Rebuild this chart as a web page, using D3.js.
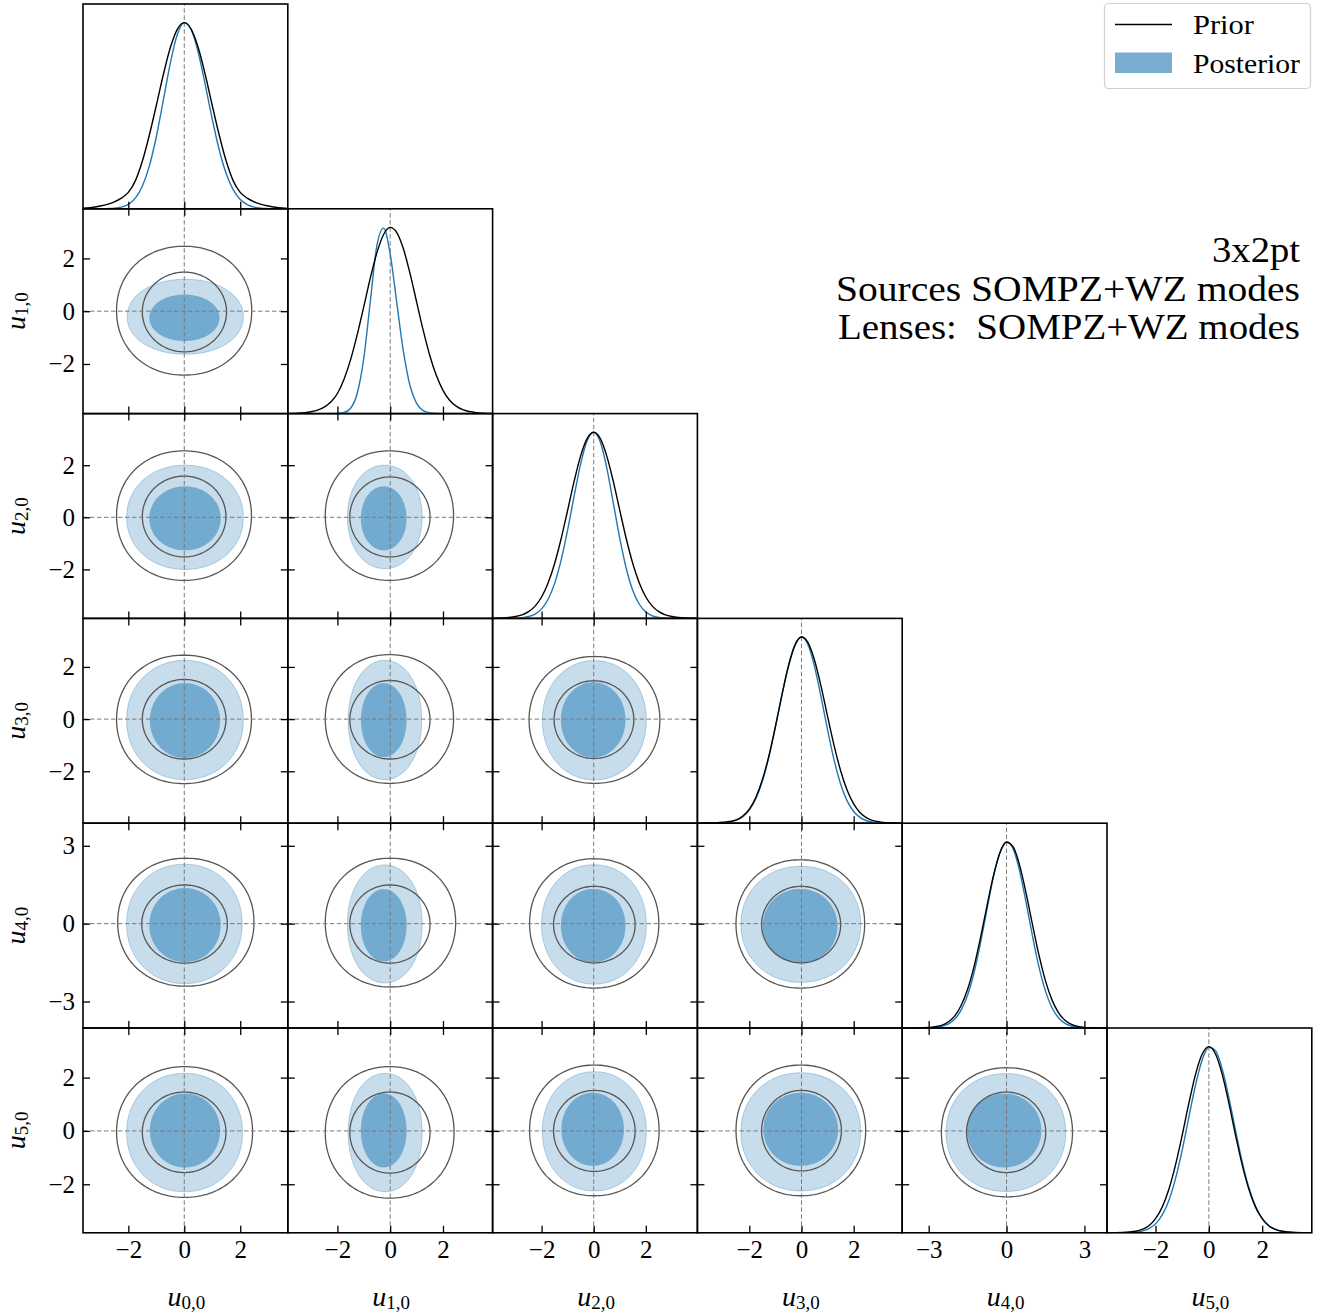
<!DOCTYPE html>
<html>
<head>
<meta charset="utf-8">
<script src="https://cdn.jsdelivr.net/npm/d3@7"></script>
<style>
  body { margin: 0; background: #fff; }
  svg text { font-family: "Liberation Serif", "DejaVu Serif", serif; fill: #000; }
</style>
</head>
<body>
<svg id="chart" width="1325" height="1315"></svg>
<script>
// ---------------- data ----------------
const paramSubs = ["0,0", "1,0", "2,0", "3,0", "4,0", "5,0"];
const axisRanges = [[-3.62, 3.70], [-3.88, 3.88], [-3.88, 3.98], [-3.99, 3.86], [-4.02, 3.87], [-3.82, 3.86]];
const tickValues = [[-2, 0, 2], [-2, 0, 2], [-2, 0, 2], [-2, 0, 2], [-3, 0, 3], [-2, 0, 2]];

// 1D marginals, normalised to peak 1, sampled on densityGrid
const densityGrid = [-4, -3.75, -3.5, -3.25, -3, -2.75, -2.5, -2.25, -2, -1.75, -1.5, -1.25, -1, -0.75, -0.5, -0.25,
  0, 0.25, 0.5, 0.75, 1, 1.25, 1.5, 1.75, 2, 2.25, 2.5, 2.75, 3, 3.25, 3.5, 3.75, 4];
const priorDensity = [
  [0.001,0.002,0.004,0.008,0.015,0.024,0.037,0.057,0.088,0.150,0.255,0.395,0.555,0.720,0.865,0.964,1.000,0.964,0.865,0.720,0.555,0.395,0.255,0.150,0.088,0.057,0.037,0.024,0.015,0.008,0.004,0.002,0.001],
  [0.000,0.001,0.002,0.005,0.010,0.019,0.035,0.062,0.108,0.185,0.290,0.424,0.575,0.730,0.866,0.962,1.000,0.972,0.885,0.753,0.600,0.448,0.312,0.204,0.125,0.072,0.040,0.021,0.011,0.005,0.002,0.001,0.000],
  [0.000,0.001,0.002,0.005,0.010,0.019,0.036,0.066,0.115,0.190,0.295,0.428,0.581,0.737,0.873,0.967,1.000,0.967,0.873,0.737,0.581,0.428,0.295,0.190,0.115,0.066,0.036,0.019,0.010,0.005,0.002,0.001,0.000],
  [0.000,0.0005,0.001,0.002,0.005,0.009,0.018,0.039,0.076,0.138,0.233,0.361,0.519,0.688,0.843,0.955,1.000,0.970,0.875,0.735,0.574,0.417,0.282,0.177,0.104,0.056,0.029,0.014,0.007,0.003,0.001,0.0005,0.000],
  [0.000,0.0003,0.0005,0.0015,0.003,0.007,0.014,0.032,0.064,0.121,0.208,0.331,0.487,0.659,0.821,0.943,0.998,0.974,0.876,0.726,0.555,0.391,0.253,0.151,0.083,0.042,0.020,0.009,0.0034,0.0015,0.0005,0.000,0.000],
  [0.000,0.0005,0.001,0.002,0.004,0.008,0.018,0.038,0.076,0.138,0.234,0.365,0.524,0.696,0.851,0.960,1.000,0.960,0.851,0.696,0.524,0.365,0.234,0.138,0.076,0.038,0.018,0.008,0.004,0.002,0.001,0.0005,0.000]
];
const posteriorDensity = [
  [0,0,0,0,0.0003,0.001,0.003,0.009,0.024,0.057,0.121,0.229,0.387,0.582,0.781,0.936,1.000,0.960,0.839,0.666,0.481,0.316,0.188,0.102,0.050,0.023,0.009,0.003,0.001,0,0,0,0],
  [0,0,0,0,0,0,0,0,0.001,0.006,0.029,0.108,0.298,0.607,0.906,0.996,0.857,0.595,0.334,0.151,0.055,0.016,0.004,0.001,0,0,0,0,0,0,0,0,0],
  [0,0,0,0,0.001,0.004,0.010,0.023,0.051,0.103,0.188,0.313,0.475,0.658,0.830,0.954,1.000,0.949,0.810,0.622,0.431,0.268,0.150,0.076,0.034,0.014,0.005,0.002,0.0005,0,0,0,0],
  [0,0,0,0.001,0.003,0.007,0.016,0.035,0.071,0.132,0.226,0.356,0.517,0.690,0.848,0.960,1.000,0.958,0.841,0.678,0.501,0.339,0.211,0.120,0.063,0.030,0.013,0.005,0.002,0.001,0,0,0],
  [0,0,0,0,0.001,0.003,0.009,0.021,0.047,0.096,0.177,0.298,0.458,0.640,0.815,0.945,1.000,0.963,0.846,0.676,0.493,0.327,0.198,0.109,0.055,0.025,0.0105,0.004,0.0015,0,0,0,0],
  [0,0,0,0,0.001,0.004,0.009,0.022,0.048,0.096,0.174,0.291,0.444,0.621,0.794,0.930,0.997,0.978,0.880,0.726,0.550,0.381,0.243,0.142,0.076,0.037,0.017,0.007,0.003,0.001,0,0,0]
];

// 2D credible regions, [row, col] pairs; each region given as [xmin, xmax, ymin, ymax]
const panelPairs = [[1,0],[2,0],[2,1],[3,0],[3,1],[3,2],[4,0],[4,1],[4,2],[4,3],[5,0],[5,1],[5,2],[5,3],[5,4]];
const priorOuter = [
  [-2.42,2.41,-2.42,2.46],[-2.42,2.40,-2.42,2.55],[-2.46,2.40,-2.42,2.55],[-2.42,2.40,-2.47,2.45],[-2.46,2.40,-2.46,2.47],
  [-2.48,2.54,-2.46,2.40],[-2.38,2.49,-2.41,2.52],[-2.46,2.48,-2.44,2.52],[-2.46,2.50,-2.48,2.50],[-2.51,2.42,-2.48,2.46],
  [-2.42,2.44,-2.49,2.41],[-2.46,2.42,-2.52,2.41],[-2.46,2.51,-2.43,2.47],[-2.51,2.46,-2.43,2.47],[-2.51,2.54,-2.47,2.37]
];
const priorInner = [
  [-1.50,1.51,-1.54,1.48],[-1.50,1.49,-1.52,1.58],[-1.53,1.51,-1.52,1.55],[-1.50,1.49,-1.53,1.52],[-1.53,1.51,-1.53,1.48],
  [-1.52,1.54,-1.51,1.47],[-1.52,1.54,-1.52,1.49],[-1.53,1.51,-1.52,1.49],[-1.54,1.59,-1.51,1.44],[-1.53,1.50,-1.51,1.44],
  [-1.50,1.49,-1.56,1.46],[-1.53,1.51,-1.58,1.46],[-1.54,1.59,-1.52,1.52],[-1.53,1.53,-1.50,1.52],[-1.54,1.51,-1.56,1.46]
];
const posteriorOuter = [
  [-2.04,2.11,-1.63,1.21],[-2.06,2.11,-2.00,2.00],[-1.62,1.21,-1.97,2.00],[-2.06,2.11,-2.32,2.25],[-1.59,1.19,-2.32,2.25],
  [-1.97,2.02,-2.33,2.24],[-2.06,2.07,-2.31,2.29],[-1.62,1.21,-2.28,2.26],[-2.00,2.02,-2.33,2.27],[-2.32,2.27,-2.26,2.21],
  [-2.06,2.08,-2.28,2.16],[-1.59,1.21,-2.28,2.16],[-1.97,2.02,-2.25,2.22],[-2.32,2.27,-2.25,2.18],[-2.33,2.28,-2.27,2.15]
];
const posteriorInner = [
  [-1.25,1.26,-1.13,0.63],[-1.25,1.30,-1.27,1.19],[-1.11,0.62,-1.27,1.19],[-1.23,1.28,-1.49,1.38],[-1.11,0.62,-1.46,1.38],
  [-1.26,1.22,-1.47,1.41],[-1.25,1.30,-1.48,1.37],[-1.11,0.62,-1.46,1.33],[-1.26,1.22,-1.49,1.34],[-1.49,1.38,-1.52,1.34],
  [-1.23,1.28,-1.37,1.40],[-1.11,0.62,-1.37,1.40],[-1.24,1.16,-1.31,1.43],[-1.46,1.40,-1.31,1.43],[-1.52,1.34,-1.37,1.40]
];

const legendLabels = ["Prior", "Posterior"];
const annotationLines = ["3x2pt", "Sources SOMPZ+WZ modes", "Lenses:\u00a0 SOMPZ+WZ modes"];

// ---------------- layout ----------------
const svg = d3.select("#chart");
const L = 83, T = 4, S = 204.8, TICK = 7;
const BLUE = "#1f77b4";
const n = paramSubs.length;

const xScale = j => d3.scaleLinear().domain(axisRanges[j]).range([L + j * S, L + (j + 1) * S]);
const yScale = i => d3.scaleLinear().domain(axisRanges[i]).range([T + (i + 1) * S, T + i * S]);

const defs = svg.append("defs");
function clipFor(i, j) {
  const id = `clip-${i}-${j}`;
  defs.append("clipPath").attr("id", id)
    .append("rect").attr("x", L + j * S).attr("y", T + i * S).attr("width", S).attr("height", S);
  return `url(#${id})`;
}

// closed rounded outline through the four extents; exponent > 2 squares the shoulders slightly
function regionPoints(ext, expo) {
  const cx = (ext[0] + ext[1]) / 2, cy = (ext[2] + ext[3]) / 2;
  const rx = (ext[1] - ext[0]) / 2, ry = (ext[3] - ext[2]) / 2;
  const p = 2 / expo;
  return d3.range(0, 160).map(k => {
    const t = k / 160 * 2 * Math.PI;
    const c = Math.cos(t), s = Math.sin(t);
    return [cx + rx * Math.sign(c) * Math.pow(Math.abs(c), p), cy + ry * Math.sign(s) * Math.pow(Math.abs(s), p)];
  });
}

function styleAxis(g, size) {
  g.select(".domain").remove();
  g.selectAll(".tick line").attr("stroke", "#000").attr("stroke-width", 1.3);
  g.selectAll("text").attr("font-family", "Liberation Serif, DejaVu Serif, serif")
    .attr("font-size", size).attr("fill", "#000");
}

function drawFrame(i, j) {
  svg.append("rect").attr("x", L + j * S).attr("y", T + i * S).attr("width", S).attr("height", S)
    .attr("fill", "none").attr("stroke", "#000").attr("stroke-width", 1.6);
}

function drawZeroLines(g, xs, ys, twoD) {
  const dash = "4.5,2.5";
  g.append("line").attr("x1", xs(0)).attr("x2", xs(0)).attr("y1", ys.range()[0]).attr("y2", ys.range()[1])
    .attr("stroke", "#7a7a7a").attr("stroke-width", 1).attr("stroke-dasharray", dash);
  if (twoD) {
    g.append("line").attr("x1", xs.range()[0]).attr("x2", xs.range()[1]).attr("y1", ys(0)).attr("y2", ys(0))
      .attr("stroke", "#7a7a7a").attr("stroke-width", 1).attr("stroke-dasharray", dash);
  }
}

const TICK_FONT = 25;

// ---------------- 2D panels ----------------
panelPairs.forEach(([i, j], k) => {
  const xs = xScale(j), ys = yScale(i);
  const g = svg.append("g").attr("clip-path", clipFor(i, j));
  const line = d3.line().x(p => xs(p[0])).y(p => ys(p[1])).curve(d3.curveLinearClosed);

  g.append("path").attr("d", line(regionPoints(posteriorOuter[k], 2.08)))
    .attr("fill", BLUE).attr("fill-opacity", 0.25)
    .attr("stroke", BLUE).attr("stroke-opacity", 0.3).attr("stroke-width", 1);
  g.append("path").attr("d", line(regionPoints(posteriorInner[k], 2.03)))
    .attr("fill", BLUE).attr("fill-opacity", 0.5);
  g.append("path").attr("d", line(regionPoints(priorOuter[k], 2.1)))
    .attr("fill", "none").attr("stroke", "#555").attr("stroke-width", 1.3);
  g.append("path").attr("d", line(regionPoints(priorInner[k], 2.0)))
    .attr("fill", "none").attr("stroke", "#555").attr("stroke-width", 1.3);
  drawZeroLines(g, xs, ys, true);

  const x0 = L + j * S, y0 = T + i * S;
  const bottom = svg.append("g").attr("transform", `translate(0,${y0 + S})`)
    .call(d3.axisBottom(xs).tickValues(tickValues[j]).tickSize(-TICK).tickPadding(7)
      .tickFormat(i === n - 1 ? null : ""));
  styleAxis(bottom, TICK_FONT);
  const top = svg.append("g").attr("transform", `translate(0,${y0})`)
    .call(d3.axisTop(xs).tickValues(tickValues[j]).tickSize(-TICK).tickFormat(""));
  styleAxis(top, TICK_FONT);
  const left = svg.append("g").attr("transform", `translate(${x0},0)`)
    .call(d3.axisLeft(ys).tickValues(tickValues[i]).tickSize(-TICK).tickPadding(8)
      .tickFormat(j === 0 ? null : ""));
  styleAxis(left, TICK_FONT);
  const right = svg.append("g").attr("transform", `translate(${x0 + S},0)`)
    .call(d3.axisRight(ys).tickValues(tickValues[i]).tickSize(-TICK).tickFormat(""));
  styleAxis(right, TICK_FONT);
  drawFrame(i, j);
});

// ---------------- diagonal (1D) panels ----------------
d3.range(n).forEach(i => {
  const xs = xScale(i);
  const ys = d3.scaleLinear().domain([0, 1.1]).range([T + (i + 1) * S, T + i * S]);
  const g = svg.append("g").attr("clip-path", clipFor(i, i));
  const curve = vals => d3.line().x((d, k) => xs(densityGrid[k])).y(d => ys(d)).curve(d3.curveMonotoneX)(vals);
  drawZeroLines(g, xs, ys, false);
  g.append("path").attr("d", curve(posteriorDensity[i]))
    .attr("fill", "none").attr("stroke", BLUE).attr("stroke-width", 1.4);
  g.append("path").attr("d", curve(priorDensity[i]))
    .attr("fill", "none").attr("stroke", "#000").attr("stroke-width", 1.4);

  const bottom = svg.append("g").attr("transform", `translate(0,${T + (i + 1) * S})`)
    .call(d3.axisBottom(xs).tickValues(tickValues[i]).tickSize(-TICK).tickPadding(7)
      .tickFormat(i === n - 1 ? null : ""));
  styleAxis(bottom, TICK_FONT);
  drawFrame(i, i);
});

// ---------------- axis labels ----------------
function mathLabel(sel, sub) {
  sel.append("tspan").attr("font-style", "italic").attr("font-size", 28).text("u");
  sel.append("tspan").attr("font-size", 19).attr("dy", 3).text(sub);
}
paramSubs.forEach((sub, j) => {
  const t = svg.append("text").attr("x", L + (j + 0.5) * S + 1).attr("y", 1306)
    .attr("text-anchor", "middle");
  mathLabel(t, sub);
});
paramSubs.forEach((sub, i) => {
  if (i === 0) return;
  const cy = T + (i + 0.5) * S;
  const t = svg.append("text").attr("transform", `translate(25,${cy}) rotate(-90)`)
    .attr("text-anchor", "middle");
  mathLabel(t, sub);
});

// ---------------- legend ----------------
const lg = svg.append("g");
lg.append("rect").attr("x", 1104.5).attr("y", 3.5).attr("width", 206).attr("height", 85).attr("rx", 4)
  .attr("fill", "#fff").attr("fill-opacity", 0.8).attr("stroke", "#d0d0d0").attr("stroke-width", 1.2);
lg.append("line").attr("x1", 1115).attr("x2", 1172).attr("y1", 24.5).attr("y2", 24.5)
  .attr("stroke", "#000").attr("stroke-width", 1.3);
lg.append("rect").attr("x", 1115).attr("y", 52.5).attr("width", 57).attr("height", 20.5)
  .attr("fill", BLUE).attr("fill-opacity", 0.6);
lg.append("text").attr("x", 1193).attr("y", 34).attr("font-size", 27)
  .attr("textLength", 61).attr("lengthAdjust", "spacingAndGlyphs").text(legendLabels[0]);
lg.append("text").attr("x", 1193).attr("y", 72.5).attr("font-size", 27)
  .attr("textLength", 107).attr("lengthAdjust", "spacingAndGlyphs").text(legendLabels[1]);

// ---------------- annotation ----------------
const annX = [1212, 836, 838], annW = [88, 464, 462], annY = [262, 300.5, 339];
annotationLines.forEach((s, k) => {
  svg.append("text").attr("x", annX[k]).attr("y", annY[k]).attr("font-size", 35)
    .attr("textLength", annW[k]).attr("lengthAdjust", "spacingAndGlyphs").text(s);
});
</script>
</body>
</html>
